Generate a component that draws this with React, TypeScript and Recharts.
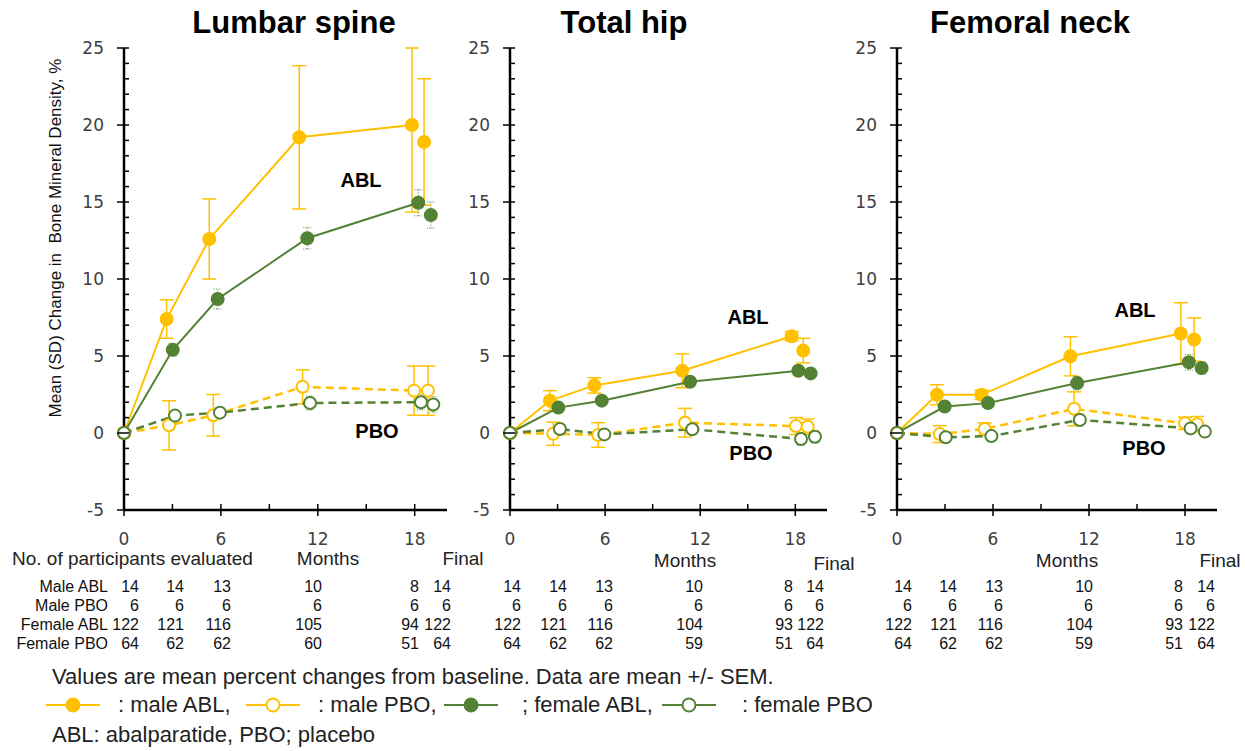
import { ComposedChart, Line, XAxis, YAxis, ErrorBar } from 'recharts'

const YELLOW = '#FFC000'
const GREEN = '#548235'
const SANS = '"Liberation Sans", Arial, sans-serif'

// [month, mean % change, SEM]; last entry of each list is the "Final" visit
// (SEM may be [below, above] where the bar runs off the top of the plot)
type Pt = [number, number, number | number[]]

const lumbarMaleABL: Pt[] = [[0, 0, 0], [2.64, 7.4, 1.25], [5.28, 12.6, 2.6], [10.85, 19.2, 4.65], [17.83, 20.0, [5.65, 5.0]], [18.58, 18.9, 4.1]]
const lumbarFemaleABL: Pt[] = [[0, 0, 0], [3.02, 5.4, 0.4], [5.8, 8.7, 0.65], [11.35, 12.65, 0.7], [18.22, 14.95, 0.85], [19.0, 14.15, 0.85]]
const lumbarMalePBO: Pt[] = [[0, 0, 0], [2.79, 0.5, 1.6], [5.53, 1.15, 1.35], [11.06, 3.0, 1.1], [17.96, 2.75, 1.6], [18.82, 2.75, 1.6]]
const lumbarFemalePBO: Pt[] = [[0, 0, 0], [3.16, 1.13, 0.3], [5.94, 1.32, 0.3], [11.52, 1.95, 0.45], [18.39, 2.0, 0.5], [19.15, 1.85, 0.5]]

const hipMaleABL: Pt[] = [[0, 0, 0], [2.52, 2.1, 0.65], [5.32, 3.09, 0.5], [10.87, 4.04, 1.1], [17.77, 6.28, 0.3], [18.5, 5.35, 0.8]]
const hipFemaleABL: Pt[] = [[0, 0, 0], [3.05, 1.65, 0.25], [5.79, 2.1, 0.25], [11.36, 3.33, 0.3], [18.19, 4.04, 0.3], [18.97, 3.87, 0.3]]
const hipMalePBO: Pt[] = [[0, 0, 0], [2.73, -0.05, 0.75], [5.57, -0.13, 0.8], [11.04, 0.67, 0.93], [18.04, 0.45, 0.55], [18.78, 0.41, 0.5]]
const hipFemalePBO: Pt[] = [[0, 0, 0], [3.15, 0.26, 0.25], [5.95, -0.09, 0.25], [11.5, 0.24, 0.3], [18.36, -0.39, 0.4], [19.24, -0.24, 0.4]]

const neckMaleABL: Pt[] = [[0, 0, 0], [2.5, 2.48, 0.65], [5.28, 2.48, 0.3], [10.84, 4.98, 1.27], [17.74, 6.46, 2.0], [18.57, 6.07, 1.4]]
const neckFemaleABL: Pt[] = [[0, 0, 0], [2.98, 1.72, 0.3], [5.69, 1.94, 0.3], [11.26, 3.24, 0.45], [18.24, 4.59, 0.5], [19.04, 4.22, 0.4]]
const neckMalePBO: Pt[] = [[0, 0, 0], [2.67, -0.07, 0.55], [5.48, 0.26, 0.4], [11.07, 1.57, 1.1], [18.0, 0.63, 0.4], [18.76, 0.57, 0.5]]
const neckFemalePBO: Pt[] = [[0, 0, 0], [3.05, -0.28, 0.3], [5.9, -0.2, 0.3], [11.43, 0.85, 0.4], [18.35, 0.3, 0.35], [19.24, 0.09, 0.3]]

const ROW_LABELS = ['Male ABL', 'Male PBO', 'Female ABL', 'Female PBO']
const lumbarCounts = [[14, 14, 13, 10, 8, 14], [6, 6, 6, 6, 6, 6], [122, 121, 116, 105, 94, 122], [64, 62, 62, 60, 51, 64]]
const hipCounts = [[14, 14, 13, 10, 8, 14], [6, 6, 6, 6, 6, 6], [122, 121, 116, 104, 93, 122], [64, 62, 62, 59, 51, 64]]
const neckCounts = [[14, 14, 13, 10, 8, 14], [6, 6, 6, 6, 6, 6], [122, 121, 116, 104, 93, 122], [64, 62, 62, 59, 51, 64]]

const MONTH_TICKS = [0, 3, 6, 9, 12, 15, 18]
const MONTH_LABELS = [0, 6, 12, 18]
const Y_TICKS = [-5, -4, -3, -2, -1, 0, 1, 2, 3, 4, 5, 6, 7, 8, 9, 10, 11, 12, 13, 14, 15, 16, 17, 18, 19, 20, 21, 22, 23, 24, 25]
const Y_LABELS = [-5, 0, 5, 10, 15, 20, 25]

const ROW_Y = [587, 606, 625, 644]
const PLOT_TOP = 48
const PLOT_BOTTOM = 510
const Y_AXIS_W = 124

const STYLES = [
  { name: 'maleABL', color: YELLOW, filled: true, dashed: false, errDash: undefined, cap: 7, errW: 1.5 },
  { name: 'femaleABL', color: GREEN, filled: true, dashed: false, errDash: '1 1.5', cap: 4, errW: 1 },
  { name: 'malePBO', color: YELLOW, filled: false, dashed: true, errDash: undefined, cap: 7, errW: 1.5 },
  { name: 'femalePBO', color: GREEN, filled: false, dashed: true, errDash: '1 1.5', cap: 4, errW: 1 },
]

function Txt({ x, y, size, children, anchor = 'left', bold = false, color = '#000', family = SANS }: any) {
  const tx = anchor === 'middle' ? '-50%' : anchor === 'end' ? '-100%' : '0'
  return (
    <div style={{
      position: 'absolute', left: x, top: y, transform: `translate(${tx}, -50%)`,
      fontSize: size, lineHeight: 1, fontWeight: bold ? 700 : 400, color, fontFamily: family, whiteSpace: 'pre',
    }}>{children}</div>
  )
}

function YTick(p: any) {
  const ax = Y_AXIS_W
  const v = p.payload.value
  const major = Y_LABELS.includes(v)
  return (
    <g>
      <line x1={major ? ax - 7 : ax} x2={ax + 5} y1={p.y} y2={p.y} stroke="#000" strokeWidth={1.5} />
      {major && (
        <text x={ax - 20} y={p.y} dy={6} textAnchor="end" fontFamily="DejaVu Sans" fontSize={17} fill="#404040">{v}</text>
      )}
    </g>
  )
}

function XTick(p: any) {
  const ay = PLOT_BOTTOM
  const v = p.payload.value
  const major = MONTH_LABELS.includes(v)
  return (
    <g>
      <line x1={p.x} x2={p.x} y1={ay - 6} y2={major ? ay + 6 : ay} stroke="#000" strokeWidth={1.5} />
      {major && (
        <text x={p.x} y={ay + 29} dy={6} textAnchor="middle" fontFamily="DejaVu Sans" fontSize={17} fill="#404040">{v}</text>
      )}
    </g>
  )
}

function Panel({ cfg }: any) {
  const width = cfg.plotRight + 10 - cfg.chartLeft
  return (
    <>
      <div style={{ position: 'absolute', left: cfg.chartLeft, top: 0 }}>
        <ComposedChart width={width} height={560} margin={{ top: PLOT_TOP, right: 10, bottom: 0, left: 0 }}>
          <XAxis type="number" dataKey="x" domain={[0, 20]} ticks={MONTH_TICKS} interval={0} allowDataOverflow
            tickLine={false} height={560 - PLOT_BOTTOM} axisLine={{ stroke: '#000', strokeWidth: 2.5 }}
            tick={(p: any) => <XTick {...p} />} />
          <YAxis type="number" domain={[-5, 25]} ticks={Y_TICKS} interval={0} allowDataOverflow
            tickLine={false} width={Y_AXIS_W} axisLine={{ stroke: '#000', strokeWidth: 2.5 }}
            tick={(p: any) => <YTick {...p} />} />
          {STYLES.map((s, i) => {
            const pts: Pt[] = cfg.series[i]
            const rows = pts.map(([x, y, e]) => ({ x, y, e }))
            const dot = { r: 6, fill: s.filled ? s.color : '#fff', stroke: s.color, strokeWidth: 2, strokeDasharray: 'none', clipDot: false }
            return [
              <Line key={s.name} data={rows.slice(0, 5)} dataKey="y" type="linear" stroke={s.color}
                strokeWidth={s.dashed ? 2.5 : 2} strokeDasharray={s.dashed ? '8 5' : undefined}
                dot={dot} activeDot={false} isAnimationActive={false}>
                <ErrorBar dataKey="e" width={s.cap} stroke={s.color} strokeWidth={s.errW} strokeDasharray={s.errDash} direction="y" />
              </Line>,
              <Line key={s.name + 'Final'} data={rows.slice(5)} dataKey="y" type="linear" stroke={s.color}
                strokeWidth={2} dot={dot} activeDot={false} isAnimationActive={false}>
                <ErrorBar dataKey="e" width={s.cap} stroke={s.color} strokeWidth={s.errW} strokeDasharray={s.errDash} direction="y" />
              </Line>,
            ]
          })}
        </ComposedChart>
      </div>
      <Txt x={cfg.titleX} y={22} size={31} bold anchor="middle">{cfg.title}</Txt>
      <Txt x={cfg.abl[0]} y={cfg.abl[1]} size={20} bold anchor="middle">ABL</Txt>
      <Txt x={cfg.pbo[0]} y={cfg.pbo[1]} size={20} bold anchor="middle">PBO</Txt>
      <Txt x={cfg.months[0]} y={cfg.months[1]} size={19} anchor="middle" color="#222">Months</Txt>
      <Txt x={cfg.final[0]} y={cfg.final[1]} size={19} anchor="middle" color="#222">Final</Txt>
      {cfg.counts.map((row: number[], r: number) =>
        row.map((n, c) => (
          <Txt key={`${r}-${c}`} x={cfg.cols[c]} y={ROW_Y[r]} size={16} anchor="end" color="#111">{n}</Txt>
        ))
      )}
    </>
  )
}

const PANELS = [
  {
    title: 'Lumbar spine', titleX: 294, chartLeft: 0, plotRight: 447,
    series: [lumbarMaleABL, lumbarFemaleABL, lumbarMalePBO, lumbarFemalePBO], counts: lumbarCounts,
    cols: [139, 184, 231, 322, 419, 451], abl: [361, 180], pbo: [377, 431], months: [328, 558], final: [463, 558],
  },
  {
    title: 'Total hip', titleX: 624, chartLeft: 386, plotRight: 827,
    series: [hipMaleABL, hipFemaleABL, hipMalePBO, hipFemalePBO], counts: hipCounts,
    cols: [521, 567, 613, 703, 793, 824], abl: [748, 317], pbo: [751, 453], months: [685, 560], final: [834, 563],
  },
  {
    title: 'Femoral neck', titleX: 1030, chartLeft: 773, plotRight: 1217,
    series: [neckMaleABL, neckFemaleABL, neckMalePBO, neckFemalePBO], counts: neckCounts,
    cols: [912, 957, 1003, 1093, 1183, 1215], abl: [1135, 310], pbo: [1144, 448], months: [1067, 560], final: [1220, 560],
  },
]

function LegendIcon({ x, color, filled }: any) {
  return (
    <svg style={{ position: 'absolute', left: x, top: 695 }} width={54} height={20}>
      <line x1={0} x2={54} y1={10} y2={10} stroke={color} strokeWidth={2} />
      <circle cx={27} cy={10} r={6.5} fill={filled ? color : '#fff'} stroke={color} strokeWidth={2} />
    </svg>
  )
}

export default function App() {
  return (
    <div style={{ position: 'relative', width: 1245, height: 751, background: '#fff', overflow: 'hidden' }}>
      <style>{'body{margin:0}'}</style>
      {PANELS.map(p => <Panel key={p.title} cfg={p} />)}
      <div style={{
        position: 'absolute', left: 55, top: 238, transform: 'translate(-50%, -50%) rotate(-90deg)',
        fontSize: 17, lineHeight: 1, fontFamily: SANS, whiteSpace: 'pre', color: '#111',
      }}>Mean (SD) Change in  Bone Mineral Density, %</div>
      <Txt x={12} y={558} size={19} color="#222">No. of participants evaluated</Txt>
      {ROW_LABELS.map((l, i) => (
        <Txt key={l} x={108} y={ROW_Y[i]} size={16} anchor="end" color="#111">{l}</Txt>
      ))}
      <Txt x={52} y={677} size={22} color="#222">Values are mean percent changes from baseline. Data are mean +/- SEM.</Txt>
      <LegendIcon x={46} color={YELLOW} filled />
      <Txt x={118} y={705} size={22} color="#222">: male ABL,</Txt>
      <LegendIcon x={246} color={YELLOW} filled={false} />
      <Txt x={318} y={705} size={22} color="#222">: male PBO,</Txt>
      <LegendIcon x={444} color={GREEN} filled />
      <Txt x={522} y={705} size={22} color="#222">; female ABL,</Txt>
      <LegendIcon x={662} color={GREEN} filled={false} />
      <Txt x={742} y={705} size={22} color="#222">: female PBO</Txt>
      <Txt x={52} y={735} size={22} color="#222">ABL: abalparatide, PBO; placebo</Txt>
    </div>
  )
}
